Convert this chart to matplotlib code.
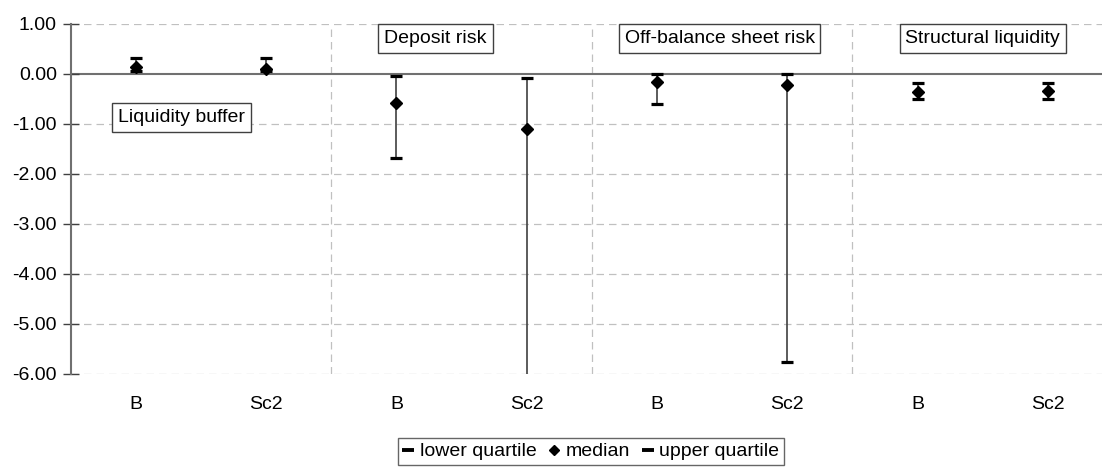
import matplotlib.pyplot as plt
import numpy as np

plt.rcParams['font.family'] = ['Liberation Sans', 'DejaVu Sans']

labels = ['B', 'Sc2', 'B', 'Sc2', 'B', 'Sc2', 'B', 'Sc2']
lower = [0.06, 0.06, -1.67, -8.00, -0.60, -5.75, -0.50, -0.50]
median = [0.15, 0.11, -0.58, -1.10, -0.16, -0.22, -0.35, -0.33]
upper = [0.33, 0.33, -0.04, -0.08, 0.01, 0.01, -0.18, -0.18]
groups = ['Liquidity buffer', 'Deposit risk', 'Off-balance sheet risk', 'Structural liquidity']

fig = plt.figure(figsize=(11.02, 4.68), dpi=100)
ax = fig.add_axes([70.7 / 1102, 1 - 374 / 468, 1 - 70.7 / 1102, 350 / 468])

x = np.arange(len(labels))
ax.set_xlim(-0.5, 7.415)
ax.set_ylim(-6, 1)

# grid
for yv in range(-6, 2):
    if yv == 0:
        continue
    ax.axhline(yv, color='#c0c0c0', lw=0.9, ls=(0, (6, 4)), zorder=0)
for xv in [1.5, 3.5, 5.5]:
    ax.axvline(xv, color='#c0c0c0', lw=0.9, ls=(0, (6, 4)), zorder=0)
ax.axhline(0, color='#707070', lw=1.5, zorder=1)

# whiskers
ax.vlines(x, lower, upper, color='#404040', lw=1.2, zorder=2)
ax.plot(x, lower, ls='none', marker='_', ms=9, mew=2.3, color='black', zorder=3)
ax.plot(x, upper, ls='none', marker='_', ms=9, mew=2.3, color='black', zorder=3)
ax.plot(x, median, ls='none', marker='D', ms=6.5, color='black', zorder=4)

# group labels
box = dict(boxstyle='square,pad=0.3', fc='white', ec='#404040', lw=1)
ax.text(0.35, -0.87, groups[0], ha='center', va='center', fontsize=14, bbox=box)
ax.text(2.3, 0.71, groups[1], ha='center', va='center', fontsize=14, bbox=box)
ax.text(4.48, 0.71, groups[2], ha='center', va='center', fontsize=14, bbox=box)
ax.text(6.5, 0.71, groups[3], ha='center', va='center', fontsize=14, bbox=box)

ax.set_yticks(range(-6, 2))
ax.set_yticklabels([f'{v:.2f}' for v in range(-6, 2)])
ax.set_xticks(x)
ax.set_xticklabels(labels)
ax.tick_params(axis='x', length=0, pad=16, labelsize=14)
ax.tick_params(axis='y', direction='inout', length=12, width=1, color='#404040', labelsize=14, pad=4)
for s in ['top', 'right', 'bottom']:
    ax.spines[s].set_visible(False)
ax.spines['left'].set_color('#707070')
ax.spines['left'].set_linewidth(1.5)

h1, = ax.plot([], [], ls='none', marker='_', ms=8, mew=2.8, color='black')
h2, = ax.plot([], [], ls='none', marker='D', ms=5, color='black')
h3, = ax.plot([], [], ls='none', marker='_', ms=8, mew=2.8, color='black')
leg = fig.legend([h1, h2, h3], ['lower quartile', 'median', 'upper quartile'],
                 loc='upper center', bbox_to_anchor=(591 / 1102, 1 - 438 / 468), ncol=3,
                 fontsize=14, frameon=True, fancybox=False, edgecolor='#404040',
                 handlelength=0.6, handletextpad=0.3, columnspacing=0.6,
                 borderpad=0.25, borderaxespad=0)
leg.get_frame().set_linewidth(1)

fig.savefig('out.png', dpi=100)
